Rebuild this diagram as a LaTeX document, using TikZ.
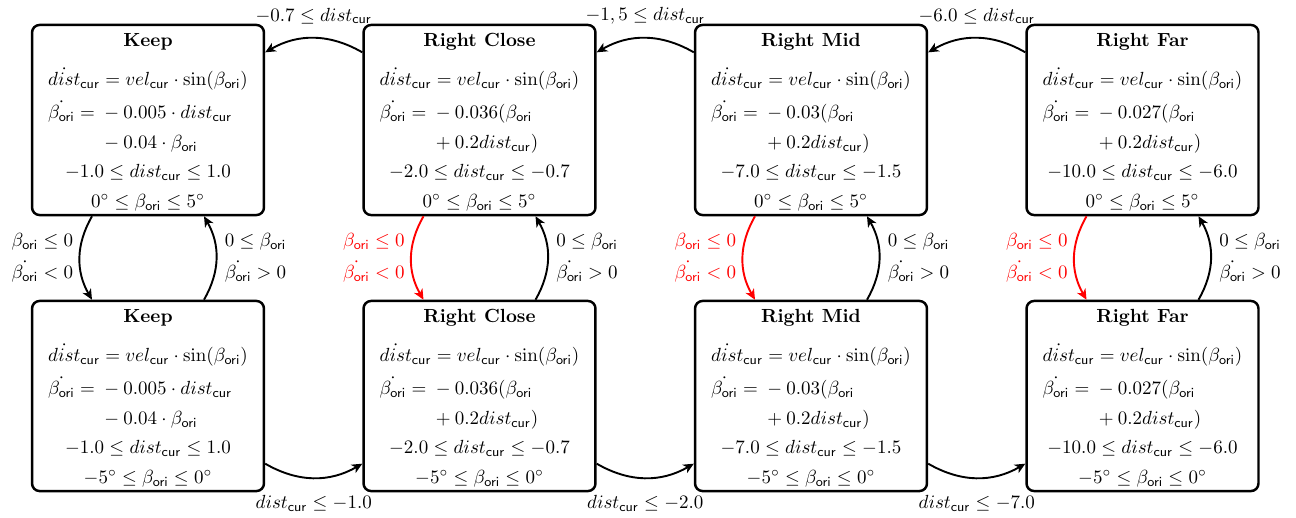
\documentclass[tikz,border=0pt]{standalone}
\usepackage{amsmath,amssymb}
\usetikzlibrary{arrows.meta,calc}
\newcommand{\Dcur}{dist_{\mathsf{cur}}}
\newcommand{\Bori}{\beta_{\mathsf{ori}}}
\newcommand{\DDcur}{\dot{dist}_{\mathsf{cur}}}
\newcommand{\DBori}{\dot{\beta_{\mathsf{ori}}}}
\newcommand{\Vcur}{vel_{\mathsf{cur}}}
\newcommand{\stcontent}[5]{%
\begin{tabular}{@{}c@{}}
\rule{0pt}{11.1pt}\textbf{#1}\\[7.5pt]
$\begin{array}{@{}l@{}}
\DDcur = \Vcur\cdot\sin(\Bori)\\[4.5pt]
\DBori = {}#2\\[3pt]
\phantom{\DBori = {}}#3
\end{array}$\\
$#4\rule{0pt}{11.4pt}$\\[4pt]
$#5$
\end{tabular}}
\tikzset{
  stbox/.style={draw, line width=1.3pt, rounded corners=4pt, minimum width=122pt, minimum height=100pt, inner sep=0pt, align=center},
  arr/.style={line width=1pt, -{Stealth[length=5.5pt,width=5pt,inset=1.6pt]}},
  redarr/.style={arr, red},
  lab/.style={align=left, inner sep=3pt}
}
\begin{document}
\begin{tikzpicture}[x=0.526pt,y=-0.526pt]
\useasboundingbox (0,0) rectangle (1296,517);
% top row
\node[stbox] (k1) at (148,120) {\stcontent{Keep}{-0.005\cdot\Dcur}{-0.04\cdot\Bori}{-1.0\le\Dcur\le 1.0}{0^\circ\le\Bori\le 5^\circ}};
\node[stbox] (c1) at (479.5,120) {\stcontent{Right Close}{-0.036(\Bori}{+0.2\Dcur)}{-2.0\le\Dcur\le -0.7}{0^\circ\le\Bori\le 5^\circ}};
\node[stbox] (m1) at (811,120) {\stcontent{Right Mid}{-0.03(\Bori}{+0.2\Dcur)}{-7.0\le\Dcur\le -1.5}{0^\circ\le\Bori\le 5^\circ}};
\node[stbox] (f1) at (1142.5,120) {\stcontent{Right Far}{-0.027(\Bori}{+0.2\Dcur)}{-10.0\le\Dcur\le -6.0}{0^\circ\le\Bori\le 5^\circ}};
% bottom row
\node[stbox] (k2) at (148,396) {\stcontent{Keep}{-0.005\cdot\Dcur}{-0.04\cdot\Bori}{-1.0\le\Dcur\le 1.0}{-5^\circ\le\Bori\le 0^\circ}};
\node[stbox] (c2) at (479.5,396) {\stcontent{Right Close}{-0.036(\Bori}{+0.2\Dcur)}{-2.0\le\Dcur\le -0.7}{-5^\circ\le\Bori\le 0^\circ}};
\node[stbox] (m2) at (811,396) {\stcontent{Right Mid}{-0.03(\Bori}{+0.2\Dcur)}{-7.0\le\Dcur\le -1.5}{-5^\circ\le\Bori\le 0^\circ}};
\node[stbox] (f2) at (1142.5,396) {\stcontent{Right Far}{-0.027(\Bori}{+0.2\Dcur)}{-10.0\le\Dcur\le -6.0}{-5^\circ\le\Bori\le 0^\circ}};
% top arrows
\draw[arr] (c1.150) to[bend right=30] node[above=5pt, inner sep=2pt] {$-0.7\le\Dcur$} (k1.30);
\draw[arr] (m1.150) to[bend right=30] node[above=5pt, inner sep=2pt] {$-1,5\le\Dcur$} (c1.30);
\draw[arr] (f1.150) to[bend right=30] node[above=5pt, inner sep=2pt] {$-6.0\le\Dcur$} (m1.30);
% bottom arrows
\draw[arr] (k2.-30) to[bend right=30] node[below=6.5pt, inner sep=2pt] {$\Dcur\le -1.0$} (c2.210);
\draw[arr] (c2.-30) to[bend right=30] node[below=6.5pt, inner sep=2pt] {$\Dcur\le -2.0$} (m2.210);
\draw[arr] (m2.-30) to[bend right=30] node[below=6.5pt, inner sep=2pt] {$\Dcur\le -7.0$} (f2.210);
% vertical arrows
\draw[arr] ($(k1.south)+(-56,0)$) to[bend right=30] node[left, lab] {$\Bori\le 0$\\[5pt]$\DBori<0$} ($(k2.north)+(-56,0)$);
\draw[arr] ($(k2.north)+(56,0)$) to[bend right=30] node[right=1pt, lab] {$0\le\Bori$\\[5pt]$\DBori>0$} ($(k1.south)+(56,0)$);
\draw[redarr] ($(c1.south)+(-56,0)$) to[bend right=30] node[left, lab] {$\Bori\le 0$\\[5pt]$\DBori<0$} ($(c2.north)+(-56,0)$);
\draw[arr] ($(c2.north)+(56,0)$) to[bend right=30] node[right=1pt, lab] {$0\le\Bori$\\[5pt]$\DBori>0$} ($(c1.south)+(56,0)$);
\draw[redarr] ($(m1.south)+(-56,0)$) to[bend right=30] node[left, lab] {$\Bori\le 0$\\[5pt]$\DBori<0$} ($(m2.north)+(-56,0)$);
\draw[arr] ($(m2.north)+(56,0)$) to[bend right=30] node[right=1pt, lab] {$0\le\Bori$\\[5pt]$\DBori>0$} ($(m1.south)+(56,0)$);
\draw[redarr] ($(f1.south)+(-56,0)$) to[bend right=30] node[left, lab] {$\Bori\le 0$\\[5pt]$\DBori<0$} ($(f2.north)+(-56,0)$);
\draw[arr] ($(f2.north)+(56,0)$) to[bend right=30] node[right=1pt, lab] {$0\le\Bori$\\[5pt]$\DBori>0$} ($(f1.south)+(56,0)$);
\end{tikzpicture}
\end{document}
